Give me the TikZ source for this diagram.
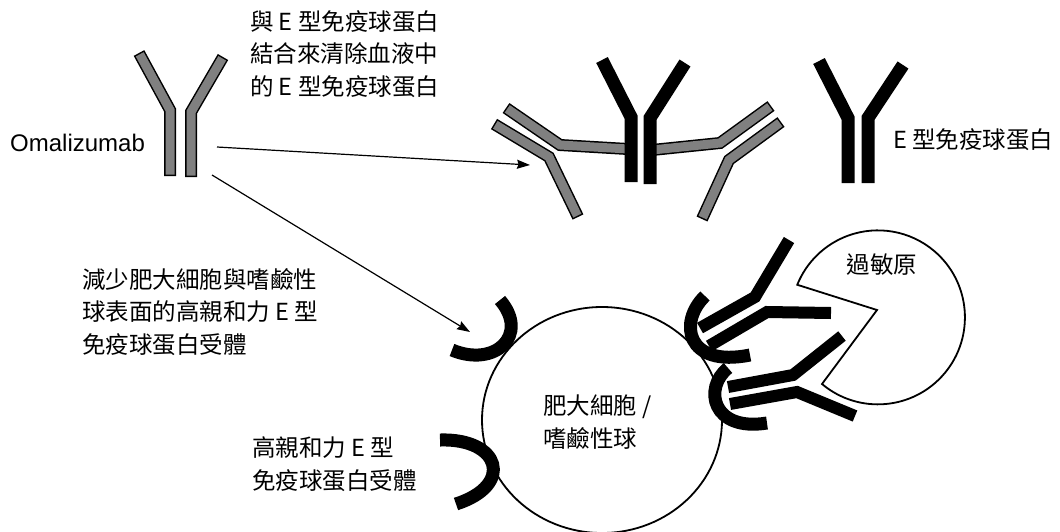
\documentclass[tikz,border=0pt]{standalone}
\usepackage{fontspec}
\setmainfont{Liberation Sans}
\newfontfamily\cjk{Noto Sans CJK TC}
\usetikzlibrary{arrows.meta}

\tikzset{
	omaedge/.style={line width=12pt, line join=miter, line cap=butt, black},
	omafill/.style={line width=9pt, line join=miter, line cap=butt, gray, shorten <=1.5pt, shorten >=1.5pt},
	igeline/.style={line width=13pt, line join=miter, line cap=butt, black},
	receptor/.style={line width=13pt, line cap=butt, black},
	outline/.style={line width=1.8pt, black},
	arr/.style={line width=1.2pt, -{Stealth[length=13pt, width=9pt, inset=1.5pt]}},
	cjktext/.style={font=\cjk\fontsize{23.5}{32.5}\selectfont, align=left, inner sep=0pt, anchor=west}
}
\newcommand\omaline[1]{\draw[omaedge] #1; \draw[omafill] #1;}

\begin{document}
\begin{tikzpicture}[x=1pt, y=-1pt]
	\useasboundingbox (0,0) rectangle (1060,531);

	\omaline{(139,53) -- (170,110) -- (170,176)}
	\omaline{(223,57) -- (191,112) -- (191,177)}
	\node[anchor=west, inner sep=0pt, font=\fontsize{24}{28}\selectfont] (omaname) at (10,143) {Omalizumab};

	\node[cjktext] (bindtxt) at (250,54) {與 E 型免疫球蛋白\\結合來清除血液中\\的 E 型免疫球蛋白};

	\omaline{(506,108) -- (560,145) -- (628,149)}
	\omaline{(494,124) -- (549,157) -- (578,217)}
	\omaline{(652,150) -- (720,143) -- (771,106)}
	\omaline{(781,122) -- (729,160) -- (702,219)}
	\draw[igeline] (602,60) -- (631,117) -- (631,182);
	\draw[igeline] (685,63) -- (650,118) -- (650,184);

	\draw[igeline] (819,61) -- (848,118) -- (848,183);
	\draw[igeline] (903,65) -- (868,118) -- (868,183);
	\node[cjktext] (igetxt) at (893,140) {E 型免疫球蛋白};

	\draw[outline] (602,420) ellipse[x radius=120, y radius=113];
	\node[cjktext] (celltxt) at (543,422) {肥大細胞 /\\嗜鹼性球};

	\draw[outline, fill=white] (822,384) arc[start angle=130, end angle=-158, radius=87] -- (877,310) -- cycle;
	\node[cjktext, anchor=center] (allergentxt) at (882,265) {過敏原};

	\draw[receptor] (500,300) .. controls (530,335) and (495,368) .. (452,350);
	\draw[receptor] (440,440) .. controls (500,438) and (515,485) .. (456,504);
	\draw[receptor] (705,296) .. controls (678,322) and (686,368) .. (750,355);
	\draw[receptor] (728,368) .. controls (703,388) and (712,432) .. (767,423);

	\draw[igeline, line width=12pt] (700,328) -- (755,297) -- (789,240);
	\draw[igeline, line width=12pt] (709,346) -- (767,312) -- (831,313);
	\draw[igeline, line width=12pt] (728,387) -- (793,375) -- (842,336);
	\draw[igeline, line width=12pt] (730,404) -- (797,392) -- (855,416);

	\node[cjktext] (reducetxt) at (82,312) {減少肥大細胞與嗜鹼性\\球表面的高親和力 E 型\\免疫球蛋白受體};
	\node[cjktext] (fcrtxt) at (252,464) {高親和力 E 型\\免疫球蛋白受體};

	\coordinate (omaout1) at (217,147);
	\coordinate (omaout2) at (212,175);
	\coordinate (bindin) at (530,165);
	\coordinate (recin) at (470,332);
	\draw[arr] (omaout1) -- (bindin);
	\draw[arr] (omaout2) -- (recin);
\end{tikzpicture}
\end{document}
